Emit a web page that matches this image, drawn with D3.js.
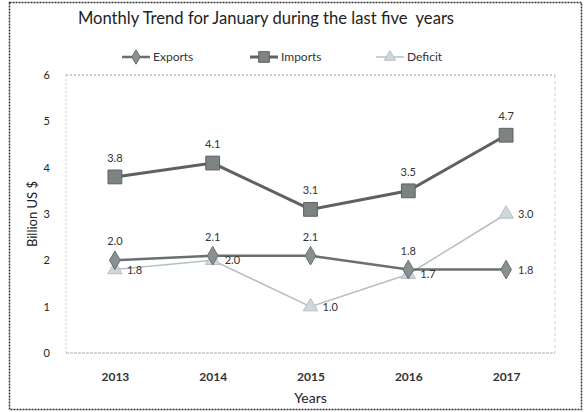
<!DOCTYPE html>
<html><head><meta charset="utf-8">
<script src="https://cdn.jsdelivr.net/npm/d3@7"></script>
<style>body{margin:0;background:#fff}svg{display:block}text{font-family:Lato,"Open Sans",sans-serif}</style>
</head><body>
<svg id="c" width="584" height="412"></svg>
<script>
const years = ["2013","2014","2015","2016","2017"];
const exportsVals = [2.0, 2.1, 2.1, 1.8, 1.8];
const importsVals = [3.8, 4.1, 3.1, 3.5, 4.7];
const deficitVals = [1.8, 2.0, 1.0, 1.7, 3.0];
const yTicks = [0,1,2,3,4,5,6];
const exportsLabelPos = ["top","top","top","top","right"];
const importsLabelPos = ["top","top","top","top","top"];
const deficitLabelPos = ["right","right","right","right","right"];

const svg = d3.select("#c");
const L=66, R=555, T=75, B=353;
const x = d3.scalePoint().domain(years).range([L,R]).padding(0.5);
const y = d3.scaleLinear().domain([0,6]).range([B,T]);

// outer border
svg.append("rect").attr("x",9.5).attr("y",2.5).attr("width",572).attr("height",407)
  .attr("fill","none").attr("stroke","#333").attr("stroke-width",1.5).attr("stroke-dasharray","2,1");

// plot frame
svg.append("line").attr("x1",L).attr("x2",L).attr("y1",T).attr("y2",B).attr("stroke","#ccc").attr("stroke-dasharray","2,2");
svg.append("line").attr("x1",R).attr("x2",R).attr("y1",T).attr("y2",B).attr("stroke","#ccc").attr("stroke-dasharray","3,3");
svg.append("line").attr("x1",L).attr("x2",R).attr("y1",y(6)).attr("y2",y(6)).attr("stroke","#999").attr("stroke-dasharray","2,2");

// y axis
const ya = svg.append("g").attr("transform",`translate(${L},0)`)
  .call(d3.axisLeft(y).tickValues(yTicks).tickFormat(d3.format("d")).tickSize(0).tickPadding(16));
ya.select(".domain").remove();
ya.selectAll("text").attr("font-size",11).attr("fill","#222").attr("font-family","Lato,sans-serif");

// x axis
const xa = svg.append("g").attr("transform",`translate(0,${B})`).call(d3.axisBottom(x).tickSize(0).tickPadding(19));
xa.select(".domain").attr("stroke","#aaa").attr("stroke-dasharray","3,1").attr("d",`M${L},0H${R}`);
xa.selectAll("text").attr("font-size",12).attr("font-weight","bold").attr("fill","#333").attr("font-family","Lato,sans-serif");

// titles
svg.append("text").attr("x",266).attr("y",24).attr("text-anchor","middle").attr("font-size",16.6).attr("fill","#222")
  .style("white-space","pre")
  .text("Monthly Trend for January during the last five  years");
svg.append("text").attr("x",(L+R)/2).attr("y",403).attr("text-anchor","middle").attr("font-size",14).attr("fill","#222").text("Years");
svg.append("text").attr("transform",`translate(37,${(T+B)/2}) rotate(-90)`).attr("text-anchor","middle").attr("font-size",13).attr("fill","#222").text("Billion US $");

const series = [
  {name:"Exports", vals:exportsVals, pos:exportsLabelPos, color:"#6a6f70", width:2.5, sym:d3.symbolDiamond, size:100, fill:"#8a9090"},
  {name:"Imports", vals:importsVals, pos:importsLabelPos, color:"#5c6262", width:3, sym:d3.symbolSquare, size:190, fill:"#7d8383"},
  {name:"Deficit", vals:deficitVals, pos:deficitLabelPos, color:"#b4c0c6", width:1.5, sym:d3.symbolTriangle, size:90, fill:"#cdd7dc"}
];
const line = d3.line().x((d,i)=>x(years[i])).y(d=>y(d));
[series[2], series[0], series[1]].forEach(s=>{
  svg.append("path").datum(s.vals).attr("d",line).attr("fill","none").attr("stroke",s.color).attr("stroke-width",s.width);
  svg.selectAll(null).data(s.vals).enter().append("path")
    .attr("d",d3.symbol().type(s.sym).size(s.size))
    .attr("transform",(d,i)=>`translate(${x(years[i])},${y(d)})`)
    .attr("fill",s.fill).attr("stroke",s.color).attr("stroke-width",1);
});
series.forEach(s=>{
  svg.selectAll(null).data(s.vals).enter().append("text")
    .attr("x",(d,i)=> s.pos[i]==="right" ? x(years[i])+12 : x(years[i]))
    .attr("y",(d,i)=> s.pos[i]==="right" ? y(d)+4 : y(d)-15)
    .attr("text-anchor",(d,i)=> s.pos[i]==="right" ? "start" : "middle")
    .attr("font-size",11).attr("fill","#333")
    .text(d=>d.toFixed(1));
});

// legend
const legX = [122, 250, 376];
series.forEach((s,i)=>{
  const g = svg.append("g").attr("transform",`translate(${legX[i]},57)`);
  g.append("line").attr("x1",0).attr("x2",28).attr("stroke",s.color).attr("stroke-width",s.width);
  g.append("path").attr("d",d3.symbol().type(s.sym).size(s.size*0.6)).attr("transform","translate(14,0)")
    .attr("fill",s.fill).attr("stroke",s.color);
  g.append("text").attr("x",31).attr("y",4).attr("font-size",12).attr("fill","#333").text(s.name);
});
</script>
</body></html>
